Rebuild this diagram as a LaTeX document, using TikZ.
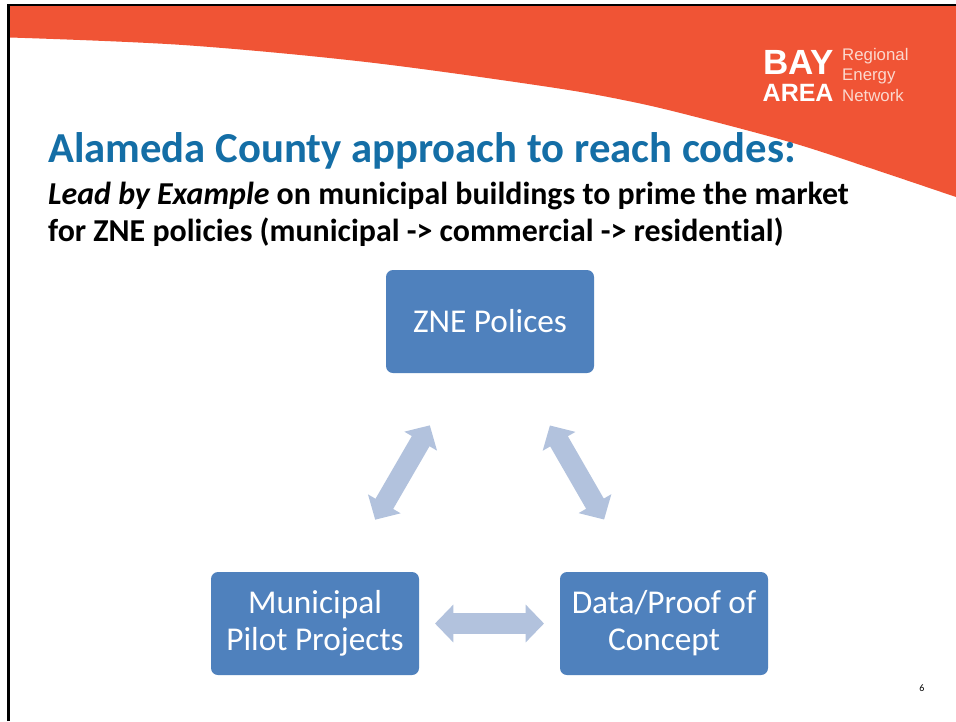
\documentclass[tikz,border=0pt]{standalone}
\usepackage{fontspec}
\setmainfont[Ligatures=NoCommon]{Carlito}
\newfontfamily\logofont{Liberation Sans}
\usetikzlibrary{arrows.meta}
\definecolor{bandcol}{HTML}{F05435}
\definecolor{titlecol}{HTML}{146EA6}
\definecolor{boxcol}{HTML}{4F81BD}
\definecolor{arrowcol}{HTML}{B2C2DD}
\definecolor{logolight}{HTML}{FBD9CF}
\tikzset{
  blockbox/.style={fill=boxcol,rounded corners=7pt,minimum width=208pt,minimum height=103pt,inner sep=0pt,align=center,text=white,font=\fontsize{33.3}{37}\selectfont},
  linkarrow/.style={draw=arrowcol,line width=20.4pt,shorten <=120pt,shorten >=120pt,{Triangle[length=18.3pt,width=36.7pt,fill=arrowcol]}-{Triangle[length=18.3pt,width=36.7pt,fill=arrowcol]}},
  slidetext/.style={anchor=base west,inner sep=0pt},
  logobig/.style={anchor=base west,inner sep=0pt,text=white},
  logosmall/.style={anchor=base west,inner sep=0pt,text=logolight,font=\logofont\fontsize{16.8}{18}\selectfont}
}
\begin{document}
\begin{tikzpicture}[x=1pt,y=-1pt]
\useasboundingbox (0,0) rectangle (956,721);
\fill[white] (0,0) rectangle (956,721);
\fill[bandcol] (8,5) -- (956,5) -- (956,197) -- plot[smooth,tension=0.55] coordinates {(956,197) (867,167) (793,143) (700,118) (633,102) (549,87) (366,62) (183,45) (10,37.5)} -- (8,37.5) -- cycle;
\draw[black,line width=3pt] (8.5,721) -- (8.5,5);
\draw[black,line width=2pt] (7,5) -- (956,5);
\node[slidetext,font=\fontsize{42.7}{48}\selectfont\bfseries,text=titlecol] (title) at (48,162) {Alameda County approach to reach codes:};
\node[slidetext,font=\fontsize{31.9}{36}\selectfont\bfseries] (sub1) at (48,204) {\textit{Lead by Example} on municipal buildings to prime the market};
\node[slidetext,font=\fontsize{31.9}{36}\selectfont\bfseries] (sub2) at (48,241) {for ZNE policies (municipal -> commercial -> residential)};
\node[blockbox] (zne) at (490,321.5) {ZNE Polices};
\node[blockbox] (pilot) at (315,623.5) {Municipal\\Pilot Projects};
\node[blockbox] (data) at (664,623.5) {Data/Proof of\\Concept};
\draw[linkarrow] (zne.center) -- (pilot.center);
\draw[linkarrow] (zne.center) -- (data.center);
\draw[linkarrow] (pilot.center) -- (data.center);
\node[logobig,font=\logofont\bfseries\fontsize{35}{36}\selectfont] (bay) at (763,74) {BAY};
\node[logobig,font=\logofont\bfseries\fontsize{25}{28}\selectfont] (area) at (762.5,101) {AREA};
\node[logosmall] (reg) at (842,60) {Regional};
\node[logosmall] (ene) at (842,80) {Energy};
\node[logosmall] (net) at (842,101) {Network};
\node[anchor=center,inner sep=0pt,font=\fontsize{10}{12}\selectfont] (num) at (922,688) {6};
\end{tikzpicture}
\end{document}
